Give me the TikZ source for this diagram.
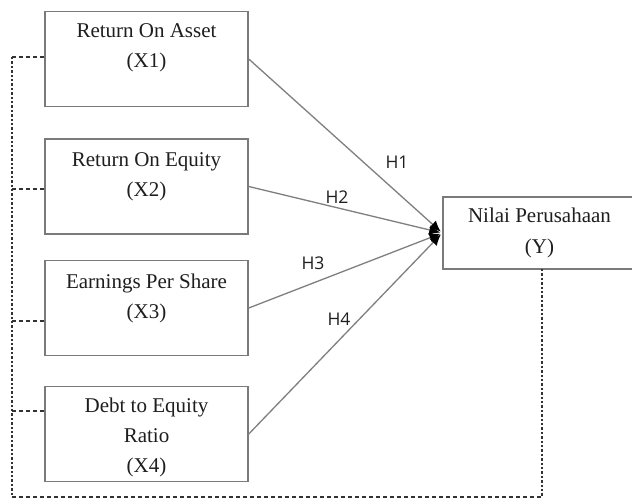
\documentclass[tikz,border=0pt]{standalone}
\usepackage{fontspec}
\setmainfont{Liberation Serif}
\newfontfamily\labelfont{Open Sans}
\usetikzlibrary{arrows.meta}
\definecolor{boxgray}{HTML}{7A7A7A}
\definecolor{linegray}{HTML}{7F7F7F}
\definecolor{txtdark}{HTML}{1E1E1E}
\definecolor{dashdark}{HTML}{333333}
\tikzset{
  box/.style={draw=boxgray, line width=1.5pt, minimum width=203pt, minimum height=95pt, inner sep=0pt, fill=white},
  ybox/.style={draw=boxgray, line width=1.5pt, minimum width=193pt, minimum height=72pt, inner sep=0pt, align=center, text=txtdark, font=\fontsize{21}{31}\selectfont},
  txt/.style={align=center, text=txtdark, inner sep=0pt, font=\fontsize{21}{30}\selectfont},
  hyp/.style={draw=linegray, line width=1.3pt, -{Latex[color=black,length=11pt,width=10pt]}, shorten >=2pt},
  hlab/.style={text=txtdark, inner sep=0pt, font=\labelfont\fontsize{17.5}{20}\selectfont},
  vdash/.style={draw=dashdark, line width=1.5pt, dash pattern=on 2.4pt off 2pt},
  hdash/.style={draw=dashdark, line width=1.5pt, dash pattern=on 4pt off 3pt}
}
\begin{document}
\begin{tikzpicture}[x=1pt,y=-1pt]
\useasboundingbox (0,0) rectangle (632,500);
\clip (0,0) rectangle (632,500);
\fill[white] (0,0) rectangle (632,500);
% boxes
\node[box] (x1) at (146.5,59) {};
\node[txt] (t1) at (146.5,47.5) {Return On Asset\\(X1)};
\node[box] (x2) at (146.5,186.5) {};
\node[txt] (t2) at (146.5,176.5) {Return On Equity\\(X2)};
\node[box] (x3) at (146.5,308) {};
\node[txt] (t3) at (146.5,298) {Earnings Per Share\\(X3)};
\node[box] (x4) at (146.5,434) {};
\node[txt] (t4) at (146.5,437) {Debt to Equity\\Ratio\\(X4)};
\node[ybox] (y) at (539.5,233) {Nilai Perusahaan\\(Y)};
% hypotheses
\draw[hyp] (x1.east) -- (y.west);
\draw[hyp] (x2.east) -- (y.west);
\draw[hyp] (x3.east) -- (y.west);
\draw[hyp] (x4.east) -- (y.west);
\node[hlab] (h1) at (397,162) {H1};
\node[hlab] (h2) at (337,197) {H2};
\node[hlab] (h3) at (313,263) {H3};
\node[hlab] (h4) at (339,319) {H4};
% dashed frame
\coordinate (l1) at (12,57);
\coordinate (l2) at (12,189);
\coordinate (l3) at (12,321);
\coordinate (l4) at (12,411);
\coordinate (bl) at (12,497);
\coordinate (br) at (542,497);
\coordinate (yb) at (542,269);
\draw[vdash] (l1) -- (bl);
\draw[hdash] (bl) -- (br);
\draw[vdash] (yb) -- (br);
\draw[hdash] (l1) -- (l1 -| x1.west);
\draw[hdash] (l2) -- (l2 -| x2.west);
\draw[hdash] (l3) -- (l3 -| x3.west);
\draw[hdash] (l4) -- (l4 -| x4.west);
\end{tikzpicture}
\end{document}
